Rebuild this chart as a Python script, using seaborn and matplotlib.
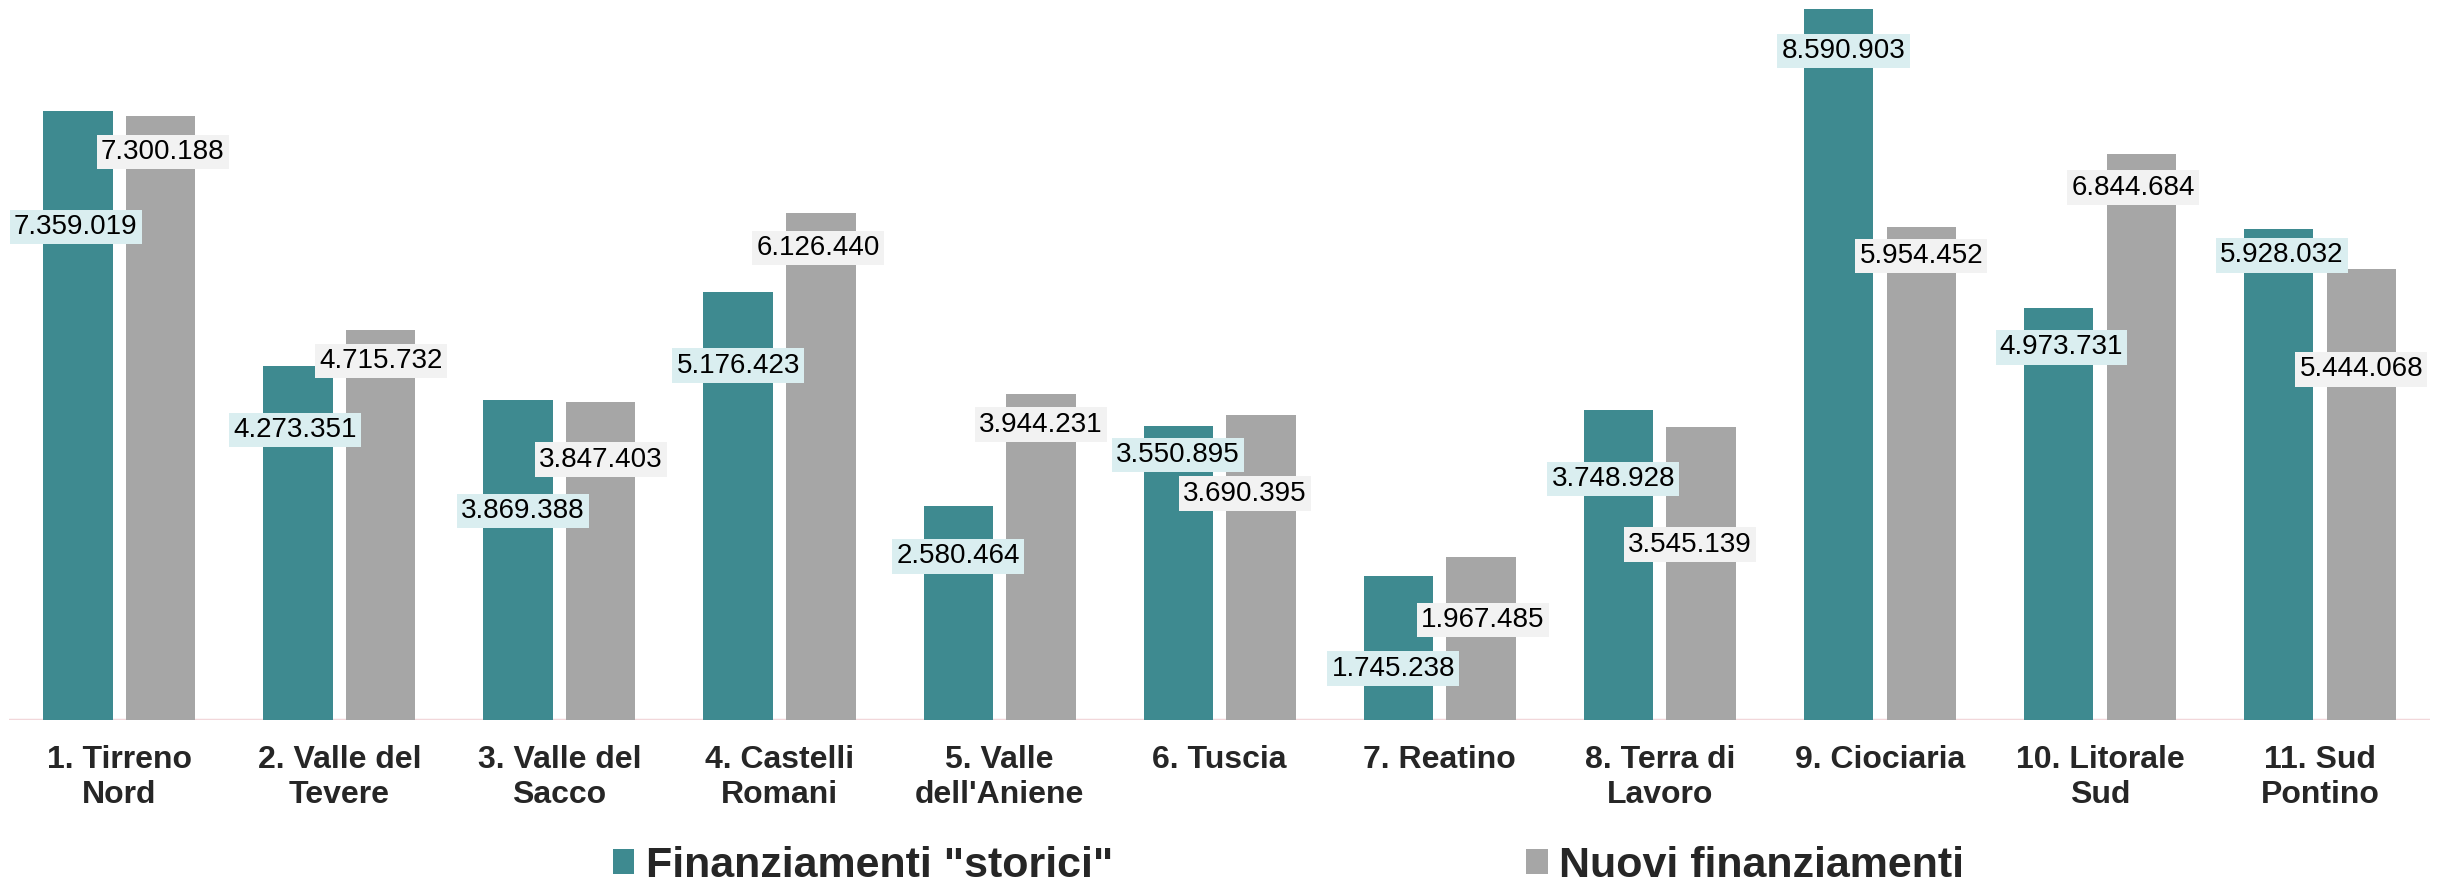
import matplotlib
matplotlib.use("Agg")
import matplotlib.pyplot as plt
import pandas as pd
import seaborn as sns

# data
aree = ["1. Tirreno\nNord", "2. Valle del\nTevere", "3. Valle del\nSacco",
        "4. Castelli\nRomani", "5. Valle\ndell'Aniene", "6. Tuscia",
        "7. Reatino", "8. Terra di\nLavoro", "9. Ciociaria",
        "10. Litorale\nSud", "11. Sud\nPontino"]
storici = [7359019, 4273351, 3869388, 5176423, 2580464, 3550895,
           1745238, 3748928, 8590903, 4973731, 5928032]
nuovi = [7300188, 4715732, 3847403, 6126440, 3944231, 3690395,
         1967485, 3545139, 5954452, 6844684, 5444068]
serie = ['Finanziamenti "storici"', "Nuovi finanziamenti"]

# label placement (pixels: dx, distance below bar top)
off_storici = [(-2, 116), (-3, 64), (5, 111), (0, 74), (0, 50), (0, 29),
               (-5, 93), (-5, 69), (5, 42), (3, 39), (3, 26)]
off_nuovi = [(2, 36), (0, 31), (0, 58), (-3, 35), (0, 31), (-16, 79),
             (2, 63), (-11, 118), (0, 29), (-8, 34), (0, 100)]

teal = "#3E8A90"
grigio = "#A6A6A6"
box_teal = "#DAEEF0"
box_grigio = "#F2F2F2"

df = pd.DataFrame({
    "area": aree * 2,
    "valore": storici + nuovi,
    "serie": [serie[0]] * len(aree) + [serie[1]] * len(aree),
})

sns.set_style("white")
plt.rcParams["font.family"] = ["Liberation Sans", "DejaVu Sans"]

fig = plt.figure(figsize=(24.4, 8.86), dpi=100)
ax = fig.add_axes([0.0038, 0.1874, 0.9921, 0.8126])

sns.barplot(data=df, x="area", y="valore", hue="serie",
            palette=[teal, grigio], saturation=1, width=0.752, gap=0.162,
            linewidth=0, ax=ax)

ax.set_ylim(0, 8.7e6)
ax.set_xlim(-0.5, len(aree) - 0.5)
ax.axhline(0, color="#F2D7DA", lw=2.5, zorder=0.5)
for s in ax.spines.values():
    s.set_visible(False)
ax.set_yticks([])
ax.set_xlabel("")
ax.set_ylabel("")
ax.tick_params(axis="x", length=0, pad=18)
for t in ax.get_xticklabels():
    t.set_fontsize(23)
    t.set_fontweight("bold")

for cont, offs, bc in zip(ax.containers, [off_storici, off_nuovi],
                          [box_teal, box_grigio]):
    for p, (dx, dy) in zip(cont.patches, offs):
        h = p.get_height()
        ax.annotate(f"{int(h):,}".replace(",", "."),
                    xy=(p.get_x() + p.get_width() / 2, h),
                    xytext=(dx, -dy), textcoords="offset pixels",
                    ha="center", va="center", fontsize=20, color="black",
                    bbox=dict(boxstyle="square,pad=0.15", fc=bc, ec="none"),
                    zorder=5)

handles, labels = ax.get_legend_handles_labels()
ax.get_legend().remove()
fig.legend(handles, labels, loc="lower center", bbox_to_anchor=(0.528, 0.0),
           ncol=2, frameon=False, prop={"size": 31, "weight": "bold"},
           handlelength=0.5, handleheight=0.5, handletextpad=0.26,
           columnspacing=9.6, borderpad=0, borderaxespad=0)

fig.savefig("out.png", dpi=100)
